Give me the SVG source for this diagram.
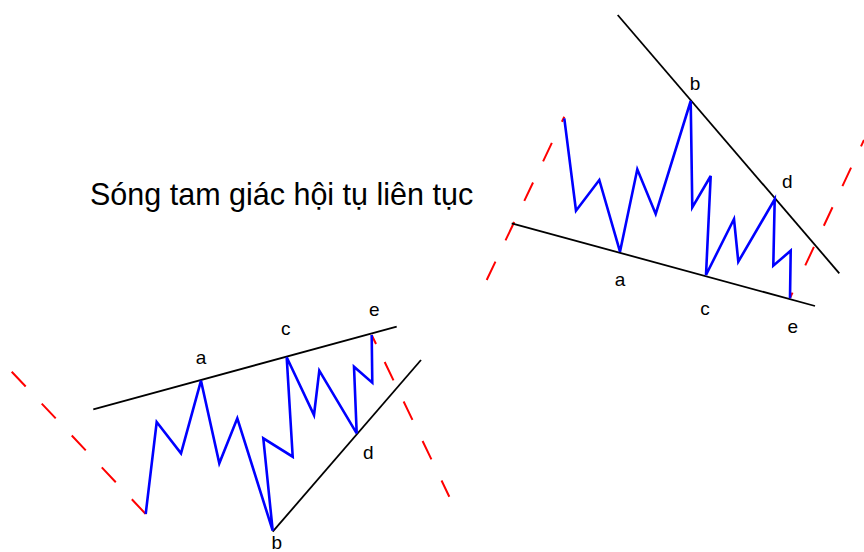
<svg xmlns="http://www.w3.org/2000/svg" width="864" height="552" viewBox="0 0 864 552">
<style>
.trend{stroke:#000;stroke-width:1.8;fill:none}
.wave{stroke:#0000ff;stroke-width:2.6;fill:none;stroke-linejoin:miter}
.red{stroke:#ff0000;stroke-width:2;fill:none;stroke-dasharray:20.4 23.4}
.lbl{font-family:"Liberation Sans",Arial,sans-serif;font-size:19px;fill:#000;text-anchor:middle}
.title{font-family:"Liberation Sans",Arial,sans-serif;font-size:30.5px;fill:#000}
</style>
<rect width="864" height="552" fill="#fff"/>
<g id="title"><text class="title" x="90" y="205">Sóng tam giác hội tụ liên tục</text></g>
<g id="connectors">
<line class="red" x1="486.7" y1="280" x2="564.3" y2="116.7"/>
<line class="red" x1="790" y1="298" x2="864" y2="140" style="stroke-dasharray:6 30 20.4 23.4 20.4 23.4 20.4 23.4 20.4 23.4"/>
<line class="red" x1="11.7" y1="371.7" x2="145.7" y2="514"/>
<line class="red" x1="371.7" y1="335" x2="449.3" y2="496.7" style="stroke-dasharray:10 20 20.4 23.4 20.4 23.4 20.4 23.4 20.4 23.4"/>
</g>
<g id="right-triangle">
<line class="trend" x1="617.7" y1="15" x2="839.3" y2="273.3"/>
<line class="trend" x1="511.7" y1="223.3" x2="815" y2="306"/>
<polyline class="wave" points="564.3,118.3 576,210.7 599.3,180 620,251.7 637.3,169.3 655.7,214 690.7,101 692.3,207.3 710.7,176 706,275 734,219 738.3,261.7 774.7,199.3 773.3,265.7 790.7,250.7 790,298.3"/>
<text class="lbl" x="695" y="90">b</text>
<text class="lbl" x="787.3" y="188">d</text>
<text class="lbl" x="620" y="286">a</text>
<text class="lbl" x="705" y="315">c</text>
<text class="lbl" x="792.7" y="333">e</text>
</g>
<g id="left-triangle">
<line class="trend" x1="93.3" y1="409.3" x2="396.7" y2="326.7"/>
<line class="trend" x1="272.7" y1="531.7" x2="421" y2="360"/>
<polyline class="wave" points="145.7,514 156.7,422 181,453.3 201,380.7 219.3,463.3 237.3,418.3 272.7,530.7 263.3,438.3 292.7,456.7 286.7,357.3 314,415 319.3,370.7 356.7,433.3 354,366.7 372.3,382.7 371.7,335"/>
<text class="lbl" x="201" y="364">a</text>
<text class="lbl" x="285.7" y="335">c</text>
<text class="lbl" x="374.3" y="316">e</text>
<text class="lbl" x="368.3" y="459">d</text>
<text class="lbl" x="276.7" y="549">b</text>
</g>
</svg>
